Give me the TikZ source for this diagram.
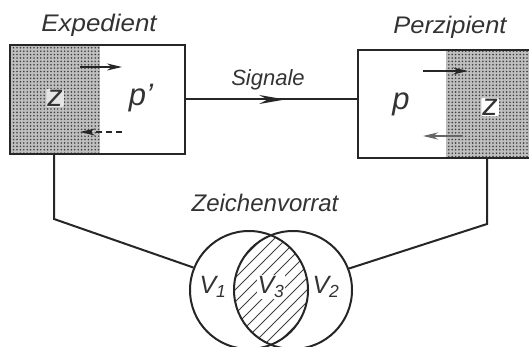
\documentclass[tikz,border=0pt]{standalone}
\usepackage{fontspec}
\setmainfont{Liberation Sans}
\usetikzlibrary{patterns,patterns.meta,arrows.meta,decorations.markings}
\begin{document}
\begin{tikzpicture}[x=1pt,y=-1pt,
  line/.style={draw=black!85, line width=2pt},
  lbl/.style={font=\fontsize{24}{24}\selectfont\itshape, text=black!80, inner sep=0pt},
  big/.style={font=\fontsize{31}{31}\selectfont\itshape, text=black!80, inner sep=1pt},
  vlab/.style={font=\fontsize{25}{25}\selectfont\itshape, text=black!80, inner sep=0pt},
  shadearea/.style={fill=gray!50, postaction={pattern={Dots[distance=3.4pt, radius=0.9pt]}, pattern color=black!75}},
  tip/.style={-{Stealth[length=15pt,width=7pt]}},
  boxnode/.style={line, rectangle, inner sep=0pt}]
\useasboundingbox (0,0) rectangle (529,347);

% left box (Expedient)
\path[shadearea] (10,45) rectangle (100,154);
\node[boxnode, minimum width=175pt, minimum height=109pt] (E) at (97.5,99.5) {};
\node[big, fill=gray!20, rounded corners=2pt] (z1) at (55,98) {z};
\node[big] (p1) at (141,98) {p'};
\draw[line, tip] (80,67) -- (122,67);
\draw[line, dash pattern=on 6pt off 4pt, tip] (122,132) -- (80,132);
\node[lbl] (lE) at (99,25) {\scalebox{1.08}[1]{Expedient}};

% right box (Perzipient)
\path[shadearea] (446,50) rectangle (545,158);
\node[boxnode, minimum width=187pt, minimum height=108pt] (P) at (451.5,104) {};
\node[big, fill=white, rounded corners=2pt] (z2) at (490,107) {z};
\node[big] (p2) at (401,104) {p};
\draw[line, tip] (423,71) -- (468,71);
\draw[line, draw=black!60, tip] (463,136) -- (423,136);
\node[lbl] (lP) at (450,27) {\scalebox{1.06}[1]{Perzipient}};

% signal
\draw[line, postaction={decorate}, decoration={markings,
  mark=at position 0.58 with {\arrow{Stealth[length=26pt,width=9pt]}}}]
  (E.east) -- (E.east -| P.west);
\node[lbl, font=\fontsize{22}{22}\selectfont\itshape] (lS) at (268,80) {Signale};

% Zeichenvorrat
\node[lbl] (lZ) at (265,203) {Zeichenvorrat};
\begin{scope}
  \clip (249,290) circle (59pt);
  \clip (293,290) circle (59pt);
  \foreach \i in {-132,-120,...,132}
    \draw[black!75, line width=0.9pt] (271+\i-90,290+90) -- (271+\i+90,290-90);
\end{scope}
\node[line, circle, minimum size=118pt, inner sep=0pt] (C1) at (249,290) {};
\node[line, circle, minimum size=118pt, inner sep=0pt] (C2) at (293,290) {};
\node[vlab] (v1) at (213,287) {V\textsubscript{1}};
\node[vlab, fill=white, inner sep=1pt] (v3) at (271,287) {V\textsubscript{3}};
\node[vlab] (v2) at (326,287) {V\textsubscript{2}};

% connectors
\coordinate (lk) at (54,219);
\draw[line] (E.south -| lk) -- (lk) -- (C1.158);
\coordinate (rk) at (487,224);
\draw[line] (P.south -| rk) -- (rk) -- (C2.21);
\end{tikzpicture}
\end{document}
